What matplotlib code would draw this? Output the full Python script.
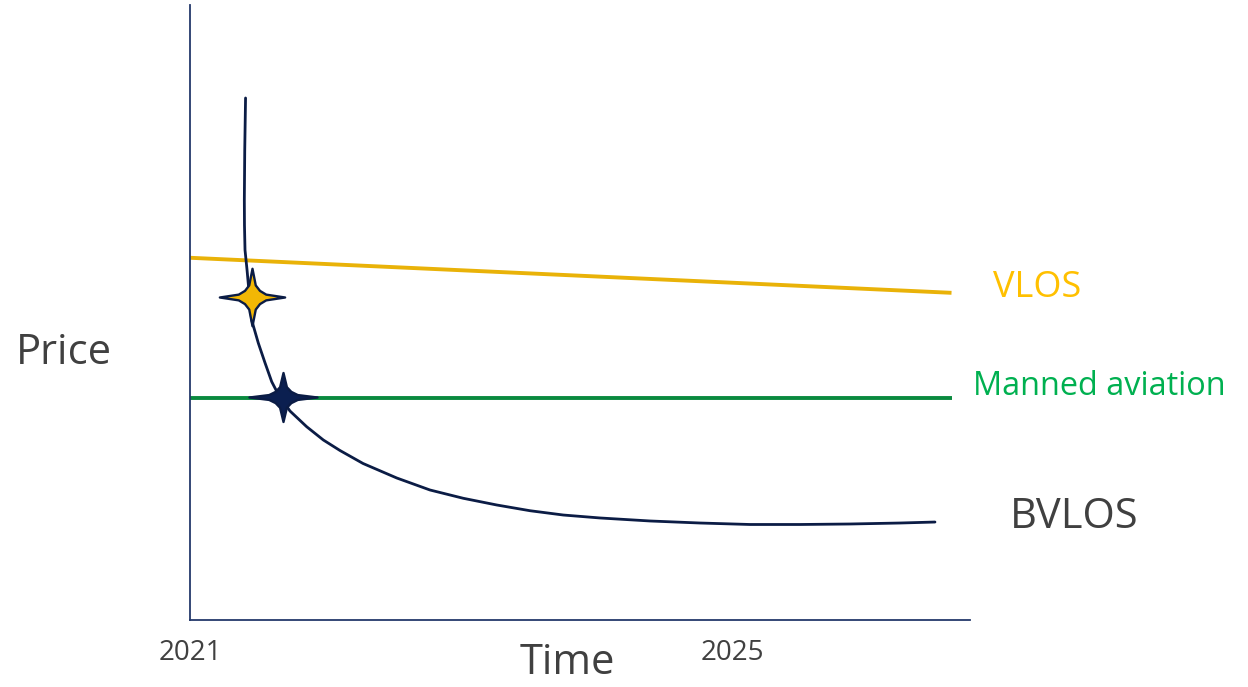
import matplotlib
matplotlib.use("Agg")
import matplotlib.pyplot as plt
from matplotlib.path import Path

# ---- data ----
year_ticks = [2021, 2025]
tick_labels = ["2021", "2025"]

vlos_x = [2021.0, 2026.62]
vlos_y = [5.89, 5.32]

manned_x = [2021.0, 2026.62]
manned_y = [3.61, 3.61]

bvlos_x = [2021.410, 2021.404, 2021.401, 2021.402, 2021.406, 2021.421, 2021.439, 2021.455,
           2021.504, 2021.554, 2021.603, 2021.652, 2021.738, 2021.861, 2021.984,
           2022.107, 2022.277, 2022.526, 2022.771, 2023.017, 2023.264, 2023.509,
           2023.755, 2024.026, 2024.395, 2024.764, 2025.133, 2025.502, 2025.871,
           2026.240, 2026.498]
bvlos_y = [8.488, 7.642, 6.829, 6.420, 6.016, 5.691, 5.252, 4.878,
           4.504, 4.179, 3.875, 3.667, 3.398, 3.143, 2.927,
           2.756, 2.545, 2.309, 2.114, 1.979, 1.870, 1.777,
           1.707, 1.659, 1.610, 1.577, 1.553, 1.553, 1.561,
           1.577, 1.593]

star_vlos = (2021.454, 5.252)
star_manned = (2021.686, 3.626)

# ---- styling ----
NAVY = "#0B1C45"
AXIS = "#24396B"
GOLD_LINE = "#E9B208"
GOLD_TEXT = "#FFC000"
GREEN_LINE = "#0A8A3F"
GREEN_TEXT = "#00B050"
GREY = "#404040"
FONT = ["Open Sans", "DejaVu Sans"]


def star_path(vscale, w=0.23, a=0.42, b=0.10):
    """Four-pointed star with slightly concave arms."""
    pts = [(1, 0), (a, b), (w, w), (b, a), (0, 1),
           (-b, a), (-w, w), (-a, b), (-1, 0),
           (-a, -b), (-w, -w), (-b, -a), (0, -1),
           (b, -a), (w, -w), (a, -b), (1, 0)]
    pts = [(x, y * vscale) for x, y in pts]
    codes = [Path.MOVETO] + [Path.LINETO] * (len(pts) - 2) + [Path.CLOSEPOLY]
    return Path(pts, codes)


fig = plt.figure(figsize=(12.48, 6.87), dpi=100)
ax = fig.add_axes([190 / 1248, 67 / 687, 780 / 1248, 615 / 687])
ax.set_xlim(2021, 2021 + 780 / 135.5)
ax.set_ylim(0, 10)

ax.plot(vlos_x, vlos_y, color=GOLD_LINE, lw=2.8, solid_capstyle="butt")
ax.plot(manned_x, manned_y, color=GREEN_LINE, lw=2.8, solid_capstyle="butt")
ax.plot(bvlos_x, bvlos_y, color=NAVY, lw=2, solid_capstyle="round",
        solid_joinstyle="round")

ax.plot(*star_vlos, marker=star_path(0.88), ms=47, mfc="#F2B705", mec=NAVY, mew=1.7)
ax.plot(*star_manned, marker=star_path(0.72), ms=49, mfc="#0B1F50", mec=NAVY, mew=1.7)

for s in ("top", "right"):
    ax.spines[s].set_visible(False)
for s in ("left", "bottom"):
    ax.spines[s].set_color(AXIS)
    ax.spines[s].set_linewidth(1.3)
ax.set_yticks([])
ax.set_xticks(year_ticks)
ax.set_xticklabels(tick_labels, fontsize=20, color=GREY, family=FONT)
ax.tick_params(axis="x", length=0, pad=14)

fig.text(567 / 1248, 1 - 663 / 687, "Time", fontsize=30, color=GREY,
         family=FONT, ha="center", va="center")
fig.text(64 / 1248, 1 - 353 / 687, "Price", fontsize=30, color=GREY,
         family=FONT, ha="center", va="center")
fig.text(993 / 1248, 1 - 288 / 687, "VLOS", fontsize=26, color=GOLD_TEXT,
         family=FONT, ha="left", va="center")
fig.text(973 / 1248, 1 - 386 / 687, "Manned aviation", fontsize=23.4, color=GREEN_TEXT,
         family=FONT, ha="left", va="center")
fig.text(1010 / 1248, 1 - 517 / 687, "BVLOS", fontsize=30, color=GREY,
         family=FONT, ha="left", va="center")

fig.savefig("out.png", dpi=100)
